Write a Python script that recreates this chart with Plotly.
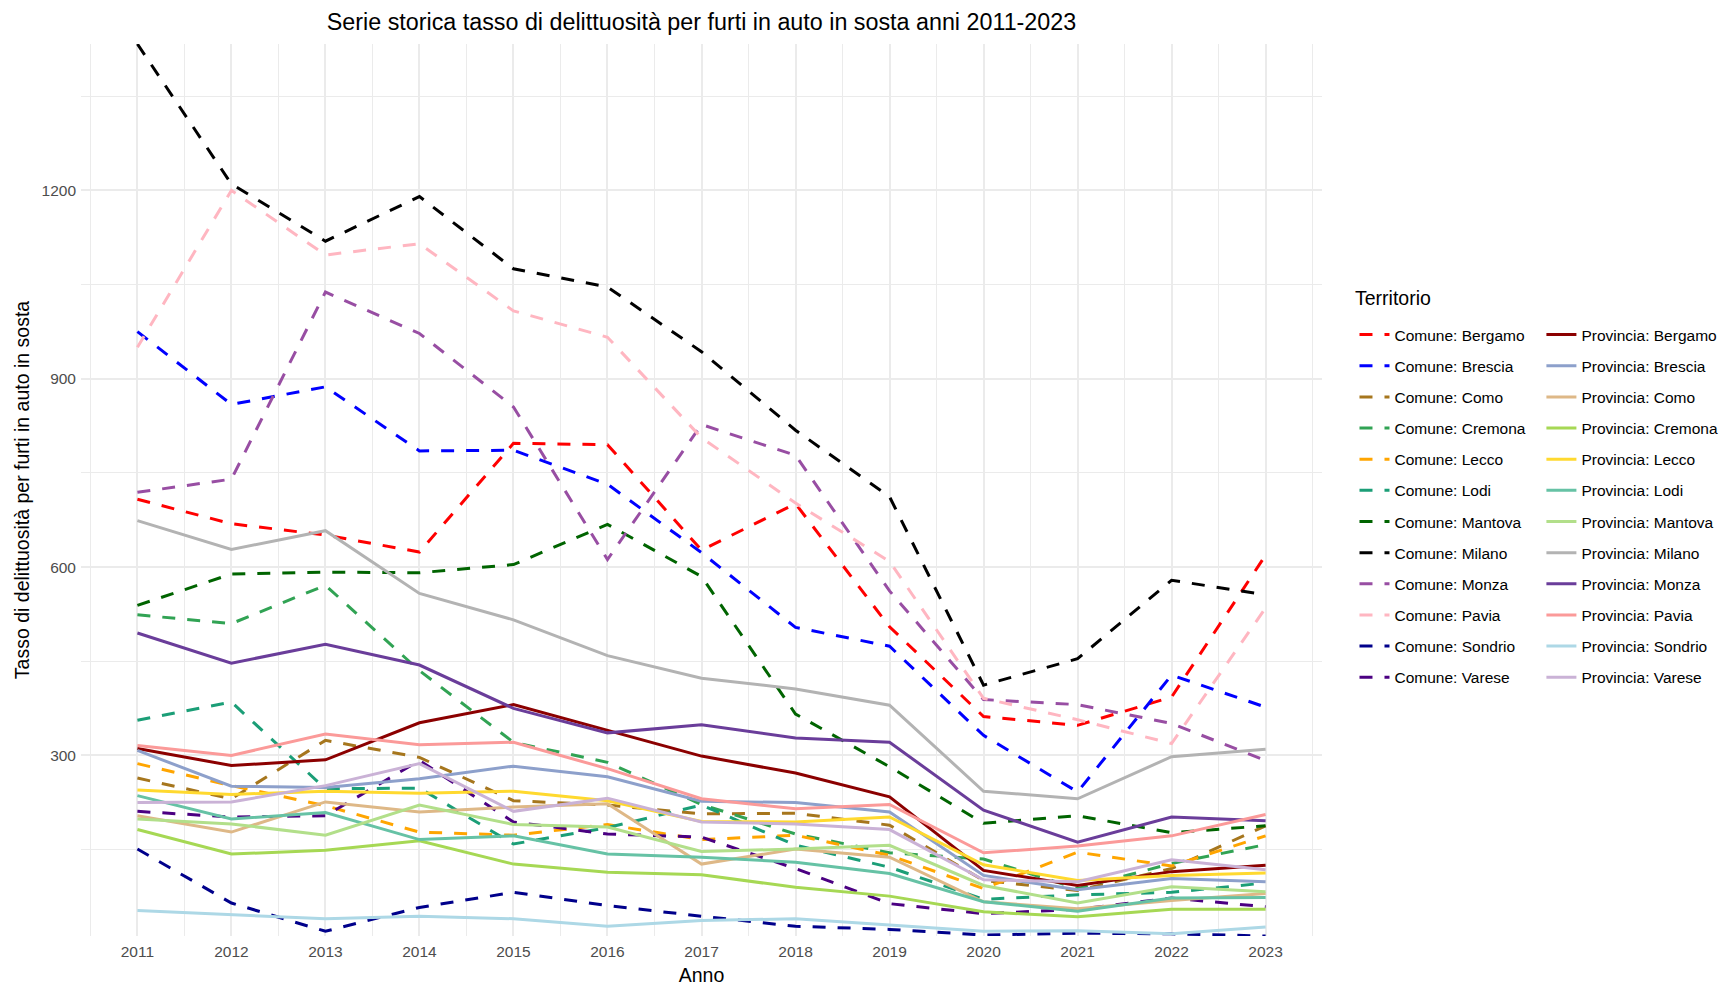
import plotly.graph_objects as go

years = list(range(2011, 2024))

# ---- Comune (dashed) ----
comune_bergamo = [708, 669, 651, 624, 797, 795, 627, 701, 505, 362, 348, 393, 619]
comune_brescia = [975, 859, 887, 785, 786, 732, 623, 504, 474, 332, 242, 428, 377]
comune_como = [264, 231, 324, 297, 228, 221, 207, 208, 189, 101, 85, 120, 188]
comune_cremona = [524, 510, 571, 435, 321, 289, 222, 175, 145, 135, 88, 128, 158]
comune_lecco = [287, 252, 220, 178, 173, 190, 166, 173, 141, 88, 146, 124, 172]
comune_lodi = [356, 385, 247, 248, 159, 185, 221, 157, 122, 71, 78, 82, 97]
comune_mantova = [539, 589, 592, 591, 604, 668, 585, 366, 282, 192, 204, 177, 188]
comune_milano = [1433, 1210, 1119, 1190, 1075, 1046, 943, 818, 712, 412, 454, 579, 556]
comune_monza = [719, 740, 1038, 972, 855, 612, 827, 778, 562, 389, 381, 351, 292]
comune_pavia = [950, 1200, 1097, 1115, 1008, 966, 806, 702, 609, 391, 357, 319, 535]
comune_sondrio = [151, 65, 20, 58, 82, 61, 44, 28, 23, 14, 17, 16, 12.5]
comune_varese = [211, 202, 204, 292, 194, 175, 170, 120, 64, 48, 55, 73, 59]

# ---- Provincia (solid) ----
provincia_bergamo = [311, 284, 293, 352, 381, 340, 299, 272, 234, 117, 93, 115, 125]
provincia_brescia = [308, 251, 249, 263, 283, 266, 227, 225, 210, 109, 86, 104, 99]
provincia_como = [204, 178, 226, 210, 218, 223, 127, 151, 138, 67, 56, 69, 80]
provincia_cremona = [182, 143, 149, 164, 127, 114, 110, 90, 76, 51, 43, 55, 55]
provincia_lecco = [245, 238, 243, 240, 243, 228, 195, 194, 202, 126, 101, 109, 113]
provincia_lodi = [236, 199, 209, 166, 172, 143, 138, 130, 112, 67, 52, 73, 74]
provincia_mantova = [199, 191, 173, 221, 190, 186, 147, 151, 157, 93, 65, 91, 83]
provincia_milano = [674, 628, 658, 558, 516, 459, 423, 406, 380, 243, 231, 298, 310]
provincia_monza = [495, 447, 477, 444, 375, 336, 349, 328, 321, 213, 162, 202, 196]
provincia_pavia = [316, 300, 334, 317, 321, 279, 231, 215, 222, 145, 156, 172, 206]
provincia_sondrio = [53, 46, 40, 44, 40, 28, 37, 40, 30, 20, 21, 16, 27]
provincia_varese = [225, 226, 252, 287, 211, 232, 194, 191, 182, 102, 99, 134, 118]

comune_names = ["Comune: Bergamo", "Comune: Brescia", "Comune: Como", "Comune: Cremona",
                "Comune: Lecco", "Comune: Lodi", "Comune: Mantova", "Comune: Milano",
                "Comune: Monza", "Comune: Pavia", "Comune: Sondrio", "Comune: Varese"]
comune_values = [comune_bergamo, comune_brescia, comune_como, comune_cremona, comune_lecco,
                 comune_lodi, comune_mantova, comune_milano, comune_monza, comune_pavia,
                 comune_sondrio, comune_varese]
comune_colors = ["#FF0000", "#0000FF", "#A6761D", "#31A354", "#FFA500", "#1B9E77",
                 "#006400", "#000000", "#984EA3", "#FFB6C1", "#00008B", "#4B0082"]

provincia_names = ["Provincia: Bergamo", "Provincia: Brescia", "Provincia: Como", "Provincia: Cremona",
                   "Provincia: Lecco", "Provincia: Lodi", "Provincia: Mantova", "Provincia: Milano",
                   "Provincia: Monza", "Provincia: Pavia", "Provincia: Sondrio", "Provincia: Varese"]
provincia_values = [provincia_bergamo, provincia_brescia, provincia_como, provincia_cremona,
                    provincia_lecco, provincia_lodi, provincia_mantova, provincia_milano,
                    provincia_monza, provincia_pavia, provincia_sondrio, provincia_varese]
provincia_colors = ["#8B0000", "#8DA0CB", "#DEB887", "#A6D854", "#FFD92F", "#66C2A5",
                    "#B2DF8A", "#B3B3B3", "#6A3D9A", "#FB9A99", "#ADD8E6", "#CAB2D6"]

FONT = "Liberation Sans, Arial, sans-serif"

fig = go.Figure()
for name, vals, col in zip(comune_names, comune_values, comune_colors):
    fig.add_trace(go.Scatter(x=years, y=vals, mode="lines", name=name,
                             line=dict(color=col, width=3, dash="13px,12px"),
                             legend="legend", legendgroup=name))
for name, vals, col in zip(provincia_names, provincia_values, provincia_colors):
    fig.add_trace(go.Scatter(x=years, y=vals, mode="lines", name=name,
                             line=dict(color=col, width=3),
                             legend="legend2", legendgroup=name))

all_vals = [v for s in comune_values + provincia_values for v in s]
ymin, ymax = min(all_vals), max(all_vals)

legend_top_px = 318.0
legend_common = dict(yanchor="top", xanchor="left", traceorder="grouped", tracegroupgap=8,
                     font=dict(family=FONT, size=15.5, color="#000000"),
                     bgcolor="rgba(0,0,0,0)", borderwidth=0)

fig.update_layout(
    width=1726, height=986,
    paper_bgcolor="white", plot_bgcolor="white",
    margin=dict(l=81, r=403.5, t=44, b=50, autoexpand=False),
    font=dict(family=FONT, color="#000000"),
    title=dict(text="Serie storica tasso di delittuosità per furti in auto in sosta anni 2011-2023",
               x=0.5, xref="paper", xanchor="center", y=1 - 22 / 986, yref="container",
               yanchor="middle", font=dict(family=FONT, size=23.3, color="#000000")),
    xaxis=dict(range=[2010.4, 2023.6], tick0=2011, dtick=1, showline=False, zeroline=False,
               ticks="", showgrid=True, gridcolor="#EBEBEB", gridwidth=1.8,
               tickfont=dict(family=FONT, size=15.5, color="#4D4D4D"),
               ticklabelstandoff=4,
               minor=dict(dtick=0.5, tick0=2010.5, showgrid=True, gridcolor="#EBEBEB", gridwidth=0.9),
               title=dict(text="Anno", standoff=10, font=dict(family=FONT, size=19.5, color="#000000")),
               automargin=False),
    yaxis=dict(range=[ymin, ymax], tick0=0, dtick=300, showline=False, zeroline=False,
               ticks="", showgrid=True, gridcolor="#EBEBEB", gridwidth=1.8,
               tickfont=dict(family=FONT, size=15.5, color="#4D4D4D"),
               ticklabelstandoff=4,
               minor=dict(dtick=150, tick0=0, showgrid=True, gridcolor="#EBEBEB", gridwidth=0.9),
               title=dict(text="Tasso di delittuosità per furti in auto in sosta", standoff=6,
                          font=dict(family=FONT, size=19.5, color="#000000")),
               automargin=False),
    legend=dict(x=(1355 - 81) / 1241.5, y=1 - (legend_top_px - 44) / 892, **legend_common),
    legend2=dict(x=(1542 - 81) / 1241.5, y=1 - (legend_top_px - 44) / 892, **legend_common),
    annotations=[dict(text="Territorio", x=(1354 - 81) / 1241.5, y=1 - (298 - 44) / 892,
                      xref="paper", yref="paper", xanchor="left", yanchor="middle",
                      showarrow=False, font=dict(family=FONT, size=19.5, color="#000000"))],
    showlegend=True,
)

fig.write_html("out.html",
               config={"displayModeBar": False},
               post_script="document.body.style.margin='0';document.body.style.padding='0';"
                           "document.body.style.overflow='hidden';")
